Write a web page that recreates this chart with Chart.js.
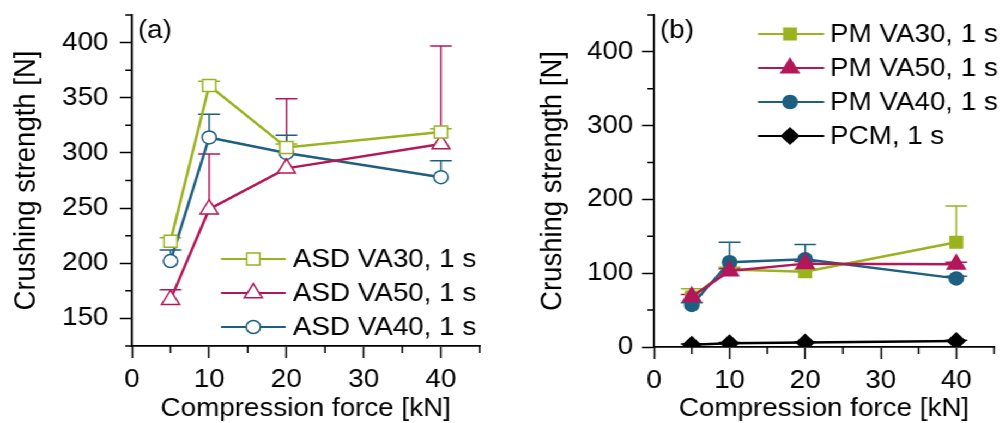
<!DOCTYPE html>
<html>
<head>
<meta charset="utf-8">
<script src="https://cdn.jsdelivr.net/npm/chart.js@4"></script>
<style>
  html, body { margin: 0; padding: 0; background: #fff; overflow: hidden; }
  /* the source figure is a little wider than tall, so the whole stage is stretched */
  #stage { position: absolute; left: 0; top: 0; width: 923px; height: 423px; transform: scaleX(1.09); transform-origin: 0 0; }
  .panel { position: absolute; top: 0; width: 461px; height: 423px; }
</style>
</head>
<body>
<div id="stage">
  <div class="panel" style="left:0"><canvas id="chartA" width="461" height="423"></canvas></div>
  <div class="panel" style="left:462px"><canvas id="chartB" width="461" height="423"></canvas></div>
</div>
<script>
const FONT = '"Liberation Sans", Arial, sans-serif';
const GREEN = '#9bb21f';
const MAGENTA = '#b3175a';
const BLUE = '#1d5f80';
const BLACK = '#000000';

/* ---------- shared x axis ---------- */
const forceKN = [5, 10, 20, 40];
const xMajorTicks = [0, 10, 20, 30, 40];
const xMinorTicks = [5, 15, 25, 35, 45];

/* ---------- panel (a): ASD ---------- */
const asdLabels = ['ASD VA30, 1 s', 'ASD VA50, 1 s', 'ASD VA40, 1 s'];
const asdVA30 = [220, 361, 305, 319];
const asdVA30Err = [3, 4, 3, 3];
const asdVA50 = [167, 249, 286, 308];
const asdVA50Err = [9, 50, 63, 89];
const asdVA40 = [202, 314, 300, 278];
const asdVA40Err = [10, 21, 16, 15];
const yMajorTicksA = [150, 200, 250, 300, 350, 400];
const yMinorTicksA = [125, 175, 225, 275, 325, 375, 425];

/* ---------- panel (b): PM / PCM ---------- */
const pmLabels = ['PM VA30, 1 s', 'PM VA50, 1 s', 'PM VA40, 1 s', 'PCM, 1 s'];
const pmVA30 = [68, 105, 102, 142];
const pmVA30Err = [11, 3, 3, 49];
const pmVA50 = [68, 103, 113, 112];
const pmVA50Err = [3, 3, 3, 3];
const pmVA40 = [57, 115, 119, 93];
const pmVA40Err = [3, 27, 20, 3];
const pcm = [3, 5, 6, 8];
const pcmErr = [1, 1, 1, 1];
const yMajorTicksB = [0, 100, 200, 300, 400];
const yMinorTicksB = [50, 150, 250, 350, 450];

function points(ys) {
    return forceKN.map((x, i) => ({ x: x, y: ys[i] }));
}

function series(label, ys, errs, color, style, radius, open, order) {
    return {
        label: label,
        data: points(ys),
        errors: errs,
        order: order,
        borderColor: color,
        backgroundColor: color,
        borderWidth: 2.5,
        tension: 0,
        pointStyle: style,
        pointRadius: radius,
        pointBackgroundColor: open ? '#ffffff' : color,
        pointBorderColor: color,
        pointBorderWidth: 1.5
    };
}

/* upward error bars, drawn under the markers */
const errorBars = {
    id: 'errorBars',
    beforeDatasetsDraw(chart) {
        const ctx = chart.ctx;
        const xs = chart.scales.x, ys = chart.scales.y;
        ctx.save();
        chart.data.datasets.forEach(ds => {
            if (!ds.errors) return;
            ctx.strokeStyle = ds.borderColor;
            ctx.lineWidth = 1.5;
            ds.data.forEach((p, i) => {
                const e = ds.errors[i];
                if (!e) return;
                const px = xs.getPixelForValue(p.x);
                const y0 = ys.getPixelForValue(p.y);
                const y1 = ys.getPixelForValue(p.y + e);
                ctx.beginPath();
                ctx.moveTo(px, y0);
                ctx.lineTo(px, y1);
                ctx.moveTo(px - 10, y1);
                ctx.lineTo(px + 10, y1);
                ctx.stroke();
            });
        });
        ctx.restore();
    }
};

/* minor ticks, panel tag and the line+marker legend */
const panelDecor = {
    id: 'panelDecor',
    afterDraw(chart, args, opts) {
        const ctx = chart.ctx;
        const xs = chart.scales.x, ys = chart.scales.y;
        ctx.save();
        ctx.strokeStyle = '#000';
        ctx.lineWidth = 1.5;
        ctx.beginPath();
        opts.xMinor.forEach(v => {
            const px = xs.getPixelForValue(v);
            ctx.moveTo(px, xs.top);
            ctx.lineTo(px, xs.top + 7);
        });
        opts.yMinor.forEach(v => {
            const py = ys.getPixelForValue(v);
            ctx.moveTo(ys.right, py);
            ctx.lineTo(ys.right - 6, py);
        });
        ctx.stroke();

        ctx.fillStyle = '#000';
        ctx.font = '25.5px ' + FONT;
        ctx.textAlign = 'left';
        ctx.textBaseline = 'middle';
        ctx.fillText(opts.tag, opts.tagX, 31);

        const lg = opts.legend;
        lg.rows.forEach((rowY, i) => {
            const ds = chart.data.datasets[i];
            ctx.strokeStyle = ds.borderColor;
            ctx.lineWidth = 2.2;
            ctx.beginPath();
            ctx.moveTo(lg.x0, rowY);
            ctx.lineTo(lg.x1, rowY);
            ctx.stroke();
            ctx.fillStyle = ds.pointBackgroundColor;
            ctx.strokeStyle = ds.pointBorderColor;
            ctx.lineWidth = ds.pointBorderWidth;
            Chart.helpers.drawPoint(ctx, {
                pointStyle: ds.pointStyle,
                radius: ds.pointRadius,
                rotation: 0,
                borderWidth: ds.pointBorderWidth
            }, lg.xm, rowY);
            ctx.fillStyle = '#000';
            ctx.fillText(ds.label, lg.xt, rowY + 1);
        });
        ctx.restore();
    }
};

function axes(cfg) {
    const tickFont = { family: FONT, size: 25.5 };
    return {
        x: {
            type: 'linear',
            min: 0,
            max: 45,
            afterBuildTicks: s => { s.ticks = xMajorTicks.map(v => ({ value: v })); },
            afterFit: s => { s.height = cfg.xHeight; s.paddingLeft = 0; s.paddingRight = 0; },
            border: { color: '#000', width: 1.8 },
            grid: { drawOnChartArea: false, tickLength: 12, tickWidth: 1.5, tickColor: '#000' },
            ticks: { color: '#000', padding: 7, autoSkip: false, maxRotation: 0, font: tickFont },
            title: {
                display: true, text: 'Compression force [kN]', color: '#000',
                padding: { top: 0, bottom: 1 },
                font: { family: FONT, size: 25.5, lineHeight: 1 }
            }
        },
        y: {
            type: 'linear',
            min: cfg.yMin,
            max: cfg.yMax,
            afterBuildTicks: s => { s.ticks = cfg.yMajor.map(v => ({ value: v })); },
            afterFit: s => { s.width = cfg.yWidth; s.paddingTop = 0; s.paddingBottom = 0; },
            border: { color: '#000', width: 1.8 },
            grid: { drawOnChartArea: false, tickLength: 11, tickWidth: 1.5, tickColor: '#000' },
            ticks: { color: '#000', padding: cfg.yPad, autoSkip: false, font: tickFont },
            title: {
                display: true, text: 'Crushing strength [N]', color: '#000',
                padding: { top: cfg.yTitlePad, bottom: 0 },
                font: { family: FONT, size: 27.5, lineHeight: 1 }
            }
        }
    };
}

new Chart(document.getElementById('chartA'), {
    type: 'line',
    data: {
        datasets: [
            series(asdLabels[0], asdVA30, asdVA30Err, GREEN, 'rect', 8.5, true, 0),
            series(asdLabels[1], asdVA50, asdVA50Err, MAGENTA, 'triangle', 9.5, true, 1),
            series(asdLabels[2], asdVA40, asdVA40Err, BLUE, 'circle', 6.5, true, 2)
        ]
    },
    options: {
        responsive: false,
        animation: false,
        events: [],
        layout: { padding: { top: 15, right: 21, bottom: 0, left: 0 } },
        scales: axes({ yMin: 125, yMax: 425, yMajor: yMajorTicksA, yWidth: 121, yPad: 10.5, yTitlePad: 10.5, xHeight: 77 }),
        plugins: {
            legend: { display: false },
            tooltip: { enabled: false },
            panelDecor: {
                tag: '(a)', tagX: 126.6,
                xMinor: xMinorTicks, yMinor: yMinorTicksA,
                legend: { x0: 202.8, x1: 262.1, xm: 232.4, xt: 268.8, rows: [259, 293, 327] }
            }
        }
    },
    plugins: [errorBars, panelDecor]
});

new Chart(document.getElementById('chartB'), {
    type: 'line',
    data: {
        datasets: [
            series(pmLabels[0], pmVA30, pmVA30Err, GREEN, 'rect', 8, false, 3),
            series(pmLabels[1], pmVA50, pmVA50Err, MAGENTA, 'triangle', 9.5, false, 1),
            series(pmLabels[2], pmVA40, pmVA40Err, BLUE, 'circle', 6.5, false, 2),
            series(pmLabels[3], pcm, pcmErr, BLACK, 'rectRot', 8, false, 0)
        ]
    },
    options: {
        responsive: false,
        animation: false,
        events: [],
        layout: { padding: { top: 15, right: 3, bottom: 0, left: 0 } },
        scales: axes({ yMin: 0, yMax: 450, yMajor: yMajorTicksB, yWidth: 138, yPad: 8, yTitlePad: 32, xHeight: 76 }),
        plugins: {
            legend: { display: false },
            tooltip: { enabled: false },
            panelDecor: {
                tag: '(b)', tagX: 143.5,
                xMinor: xMinorTicks, yMinor: yMinorTicksB,
                legend: { x0: 233.4, x1: 294.2, xm: 262.8, xt: 299.5, rows: [34, 68, 102, 136] }
            }
        }
    },
    plugins: [errorBars, panelDecor]
});
</script>
</body>
</html>
